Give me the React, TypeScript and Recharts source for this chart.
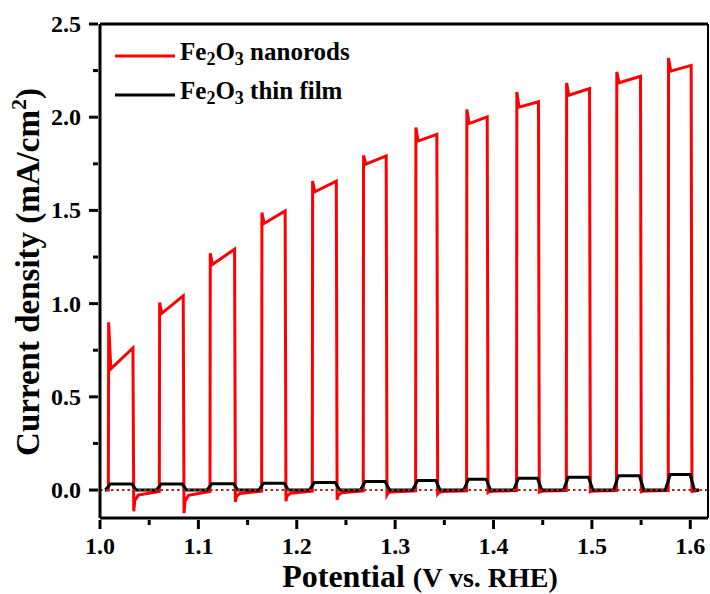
import { LineChart, Line, XAxis, YAxis, ReferenceLine } from "recharts";

// chopped-light scan: potentials (V vs. RHE) where the lamp switches on / off
const lightOn = [1.0085, 1.0603, 1.1118, 1.1643, 1.2158, 1.2676, 1.3208, 1.3726, 1.4234, 1.474, 1.525, 1.5776];
const lightOff = [1.0339, 1.085, 1.1372, 1.1886, 1.2406, 1.2913, 1.3428, 1.394, 1.4461, 1.498, 1.5498, 1.6013];
const scanStart = 1.005;
const scanEnd = 1.609;

// Fe2O3 nanorods (mA/cm2)
const rodSpike = [0.9, 1.006, 1.27, 1.488, 1.658, 1.795, 1.945, 2.042, 2.135, 2.183, 2.243, 2.318];
const rodDip = [0.65, 0.948, 1.21, 1.43, 1.6, 1.748, 1.872, 1.966, 2.054, 2.118, 2.185, 2.247];
const rodEnd = [0.762, 1.042, 1.292, 1.497, 1.657, 1.792, 1.908, 2.002, 2.083, 2.154, 2.22, 2.278];
// transient after the lamp goes off: overshoot, then decay back toward zero
const rodDarkDip = [-0.114, -0.124, -0.064, -0.06, -0.052, -0.026, -0.02, -0.013, -0.011, -0.009, -0.009, -0.007];
const rodDarkKnee = [-0.056, -0.058, -0.034, -0.032, -0.028, -0.016, -0.013, -0.009, -0.008, -0.007, -0.007, -0.006];
const rodDarkTail = [-0.027, -0.028, -0.018, -0.017, -0.015, -0.01, -0.008, -0.006, -0.005, -0.005, -0.005, -0.004];
const rodDarkEnd = [-0.008, -0.008, -0.006, -0.006, -0.005, -0.004, -0.004, -0.003, -0.003, -0.003, -0.003, -0.003];

// Fe2O3 thin film (mA/cm2), photocurrent plateau of each light pulse
const filmLevel = [0.032, 0.032, 0.034, 0.037, 0.04, 0.046, 0.051, 0.058, 0.063, 0.069, 0.076, 0.083];

const xTicks = [1.0, 1.05, 1.1, 1.15, 1.2, 1.25, 1.3, 1.35, 1.4, 1.45, 1.5, 1.55, 1.6];
const yTicks = [0, 0.25, 0.5, 0.75, 1.0, 1.25, 1.5, 1.75, 2.0, 2.25, 2.5];

const FONT = '"Liberation Serif", "Times New Roman", serif';

const rodTrace: { v: number; j: number }[] = [{ v: scanStart, j: 0 }];
lightOn.forEach((on, i) => {
  const off = lightOff[i];
  rodTrace.push(
    { v: on, j: i === 0 ? 0 : rodDarkEnd[i - 1] },
    { v: on + 0.0003, j: rodSpike[i] },
    { v: on + 0.0025, j: rodDip[i] },
    { v: off - 0.0004, j: rodEnd[i] },
    { v: off + 0.0004, j: rodDarkDip[i] },
    { v: off + 0.0015, j: rodDarkKnee[i] },
    { v: off + 0.005, j: rodDarkTail[i] }
  );
});
rodTrace.push({ v: scanEnd, j: rodDarkEnd[rodDarkEnd.length - 1] });

const filmTrace: { v: number; j: number }[] = [{ v: scanStart, j: 0 }];
lightOn.forEach((on, i) => {
  filmTrace.push(
    { v: on - 0.003, j: 0 },
    { v: on + 0.002, j: filmLevel[i] },
    { v: lightOff[i] - 0.0015, j: filmLevel[i] },
    { v: lightOff[i] + 0.003, j: 0 }
  );
});
filmTrace.push({ v: scanEnd, j: 0 });

const isMajor = (v: number, step: number) => Math.abs(v / step - Math.round(v / step)) < 1e-6;

function XTick({ x, y, payload }: any) {
  const major = isMajor(payload.value, 0.1);
  return (
    <g>
      <line x1={x} x2={x} y1={y} y2={y + (major ? 9 : 5)} stroke="#000" strokeWidth={3} />
      {major && (
        <text x={x} y={y + 34} textAnchor="middle" fontFamily={FONT} fontWeight="bold" fontSize={24} fill="#000">
          {payload.value.toFixed(1)}
        </text>
      )}
    </g>
  );
}

function YTick({ x, y, payload }: any) {
  const major = isMajor(payload.value, 0.5);
  return (
    <g>
      <line x1={x} x2={x - (major ? 9 : 5)} y1={y} y2={y} stroke="#000" strokeWidth={3} />
      {major && (
        <text x={x - 17} y={y + 8} textAnchor="end" fontFamily={FONT} fontWeight="bold" fontSize={24} fill="#000">
          {payload.value.toFixed(1)}
        </text>
      )}
    </g>
  );
}

const YTitle = () => (
  <text
    x={39}
    y={272}
    transform="rotate(-90, 39, 272)"
    textAnchor="middle"
    fontFamily={FONT}
    fontWeight="bold"
    fontSize={33}
    fill="#000"
  >
    Current density (mA/cm
    <tspan dy={-13} fontSize={22}>2</tspan>
    <tspan dy={13}>)</tspan>
  </text>
);

const XTitle = () => (
  <text x={420} y={587} textAnchor="middle" fontFamily={FONT} fontWeight="bold" fill="#000">
    <tspan fontSize={32}>Potential </tspan>
    <tspan fontSize={28}>(V vs. RHE)</tspan>
  </text>
);

const Fe2O3 = () => (
  <>
    Fe<sub style={{ fontSize: "0.72em", verticalAlign: "-0.25em" }}>2</sub>O
    <sub style={{ fontSize: "0.72em", verticalAlign: "-0.25em" }}>3</sub>
  </>
);

function LegendBox() {
  const rows = [
    { color: "#ff0000", name: "nanorods" },
    { color: "#000000", name: "thin film" },
  ];
  return (
    <div style={{ position: "absolute", left: 115, top: 36, fontFamily: FONT, fontWeight: "bold", fontSize: 25 }}>
      {rows.map((r) => (
        <div key={r.name} style={{ display: "flex", alignItems: "center", height: 39, lineHeight: "39px" }}>
          <svg width={62} height={10} style={{ marginRight: 3 }}>
            <line x1={0} x2={60} y1={5} y2={5} stroke={r.color} strokeWidth={3} />
          </svg>
          <span>
            <Fe2O3 /> {r.name}
          </span>
        </div>
      ))}
    </div>
  );
}

export default function App() {
  return (
    <div style={{ position: "absolute", left: 0, top: 0, width: 710, height: 594, background: "#fff" }}>
      <LineChart width={710} height={594} margin={{ top: 24, right: 2, bottom: 0, left: 0 }}>
        <XAxis
          dataKey="v"
          type="number"
          domain={[1.0, 1.618]}
          ticks={xTicks}
          interval={0}
          height={76}
          tickSize={0}
          tickLine={false}
          axisLine={{ stroke: "#000", strokeWidth: 3 }}
          tick={<XTick />}
          label={{ content: <XTitle /> }}
          allowDataOverflow
        />
        <YAxis
          type="number"
          domain={[-0.15, 2.5]}
          ticks={yTicks}
          interval={0}
          width={100}
          tickSize={0}
          tickLine={false}
          axisLine={{ stroke: "#000", strokeWidth: 3 }}
          tick={<YTick />}
          label={{ content: <YTitle /> }}
          allowDataOverflow
        />
        <ReferenceLine y={2.5} stroke="#000" strokeWidth={3} />
        <ReferenceLine x={1.618} stroke="#000" strokeWidth={2} />
        <Line
          data={rodTrace}
          dataKey="j"
          type="linear"
          stroke="#ff0000"
          strokeWidth={3}
          dot={false}
          isAnimationActive={false}
        />
        <Line
          data={filmTrace}
          dataKey="j"
          type="linear"
          stroke="#000"
          strokeWidth={3}
          dot={false}
          isAnimationActive={false}
        />
        <ReferenceLine y={0} stroke="#9e2a2a" strokeWidth={2} strokeDasharray="2.5 3" />
      </LineChart>
      <LegendBox />
    </div>
  );
}
